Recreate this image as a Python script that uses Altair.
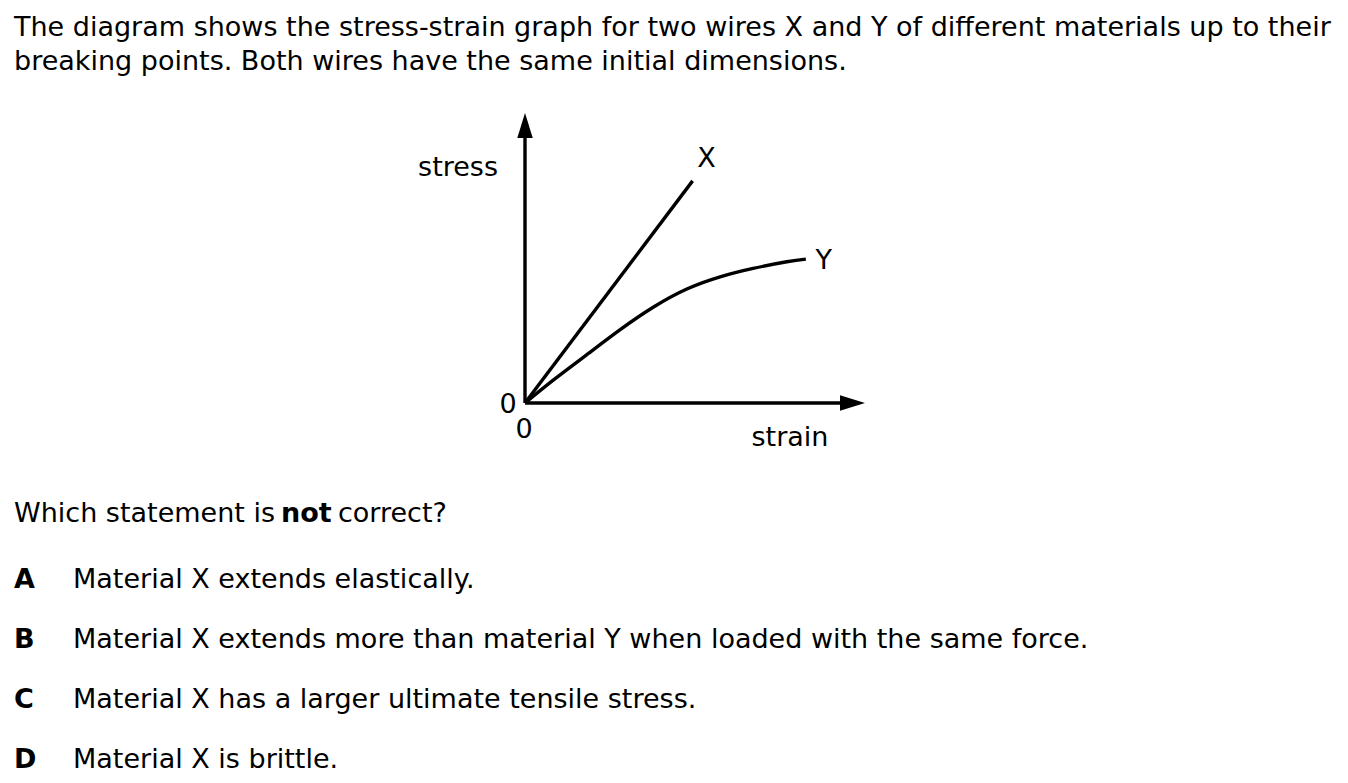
import altair as alt
import pandas as pd

# ---- data ----
strain_X = [0.0, 4.93]
stress_X = [0.0, 7.66]
strain_Y = [0.0, 0.83, 1.81, 2.79, 3.77, 4.76, 5.74, 6.71, 7.70, 8.26]
stress_Y = [0.0, 0.79, 1.66, 2.52, 3.30, 3.93, 4.35, 4.64, 4.87, 4.96]
axis_max = 10.0

intro_lines = [
    "The diagram shows the stress-strain graph for two wires X and Y of different materials up to their",
    "breaking points. Both wires have the same initial dimensions.",
]
question_parts = ["Which statement is", "not", "correct?"]
option_letters = ["A", "B", "C", "D"]
option_texts = [
    "Material X extends elastically.",
    "Material X extends more than material Y when loaded with the same force.",
    "Material X has a larger ultimate tensile stress.",
    "Material X is brittle.",
]

FONT = "DejaVu Sans"
FS = 27
W, H = 1332, 767
X0, X1 = 517, 857
Y0, Y1 = 395, 105
xs = alt.Scale(domain=[0, axis_max], range=[X0, X1])
ys = alt.Scale(domain=[0, axis_max], range=[Y0, Y1])
ARROW = 25  # arrowhead length px

def X(f):
    return alt.X(f"{f}:Q", scale=xs, axis=None)

def Y(f):
    return alt.Y(f"{f}:Q", scale=ys, axis=None)

lines_df = pd.DataFrame(
    {"strain": strain_X + strain_Y,
     "stress": stress_X + stress_Y,
     "wire": ["X"] * len(strain_X) + ["Y"] * len(strain_Y)}
)

line_x = alt.Chart(lines_df[lines_df.wire == "X"]).mark_line(
    color="black", strokeWidth=3.4).encode(x=X("strain"), y=Y("stress"))
line_y = alt.Chart(lines_df[lines_df.wire == "Y"]).mark_line(
    color="black", strokeWidth=3.4, interpolate="natural").encode(x=X("strain"), y=Y("stress"))

sx = axis_max - ARROW / ((X1 - X0) / axis_max) * 0.9
sy = axis_max - ARROW / ((Y0 - Y1) / axis_max) * 0.9
axes_df = pd.DataFrame({"strain": [0, 0], "stress": [0, 0], "strain2": [sx, 0], "stress2": [0, sy]})
axes = alt.Chart(axes_df).mark_rule(color="black", strokeWidth=3.4).encode(
    x=X("strain"), y=Y("stress"), x2="strain2:Q", y2="stress2:Q")

head_x = alt.Chart(pd.DataFrame({"strain": [axis_max], "stress": [0]})).mark_point(
    shape="M0,0L-2,-0.62L-2,0.62Z", size=ARROW ** 2, filled=True, color="black",
    opacity=1, strokeWidth=0).encode(x=X("strain"), y=Y("stress"))
head_y = alt.Chart(pd.DataFrame({"strain": [0], "stress": [axis_max]})).mark_point(
    shape="M0,0L-0.62,2L0.62,2Z", size=ARROW ** 2, filled=True, color="black",
    opacity=1, strokeWidth=0).encode(x=X("strain"), y=Y("stress"))

def end_label(wire, dx, dy):
    d = lines_df[lines_df.wire == wire].tail(1).assign(label=wire)
    return alt.Chart(d).mark_text(font=FONT, fontSize=FS, align="center", baseline="alphabetic",
                                  dx=dx, dy=dy, color="black").encode(
        x=X("strain"), y=Y("stress"), text="label:N")

lab_x = end_label("X", 14, -14)
lab_y = end_label("Y", 18, 10)

origin_df = pd.DataFrame({"strain": [0], "stress": [0], "label": ["0"]})
zero_y = alt.Chart(origin_df).mark_text(font=FONT, fontSize=FS, align="center", baseline="alphabetic",
                                        dx=-17, dy=10, color="black").encode(
    x=X("strain"), y=Y("stress"), text="label:N")
zero_x = alt.Chart(origin_df).mark_text(font=FONT, fontSize=FS, align="center", baseline="alphabetic",
                                        dx=-1, dy=35, color="black").encode(
    x=X("strain"), y=Y("stress"), text="label:N")

def txt(s, x, y, align="left", weight="normal"):
    return alt.Chart(pd.DataFrame({"t": [s]})).mark_text(
        font=FONT, fontSize=FS, align=align, baseline="alphabetic", fontWeight=weight,
        color="black").encode(x=alt.value(x), y=alt.value(y), text="t:N")

texts = [
    txt(intro_lines[0], 6, 28),
    txt(intro_lines[1], 6, 62),
    txt("stress", 490, 168, align="right"),
    txt("strain", 782, 438, align="center"),
    txt(question_parts[0], 6, 514),
    txt(question_parts[1], 273, 514, weight="bold"),
    txt(question_parts[2], 330, 514),
]
for i, (l, t) in enumerate(zip(option_letters, option_texts)):
    yy = 580 + i * 60
    texts.append(txt(l, 6, yy, weight="bold"))
    texts.append(txt(t, 65, yy))

chart = alt.layer(axes, head_x, head_y, line_x, line_y, lab_x, lab_y, zero_y, zero_x, *texts).properties(
    width=W, height=H, background="white", padding=0, autosize=alt.AutoSizeParams(type="none")
).configure_view(stroke=None)

chart.save("out.html", embed_options={"renderer": "svg", "actions": False})
